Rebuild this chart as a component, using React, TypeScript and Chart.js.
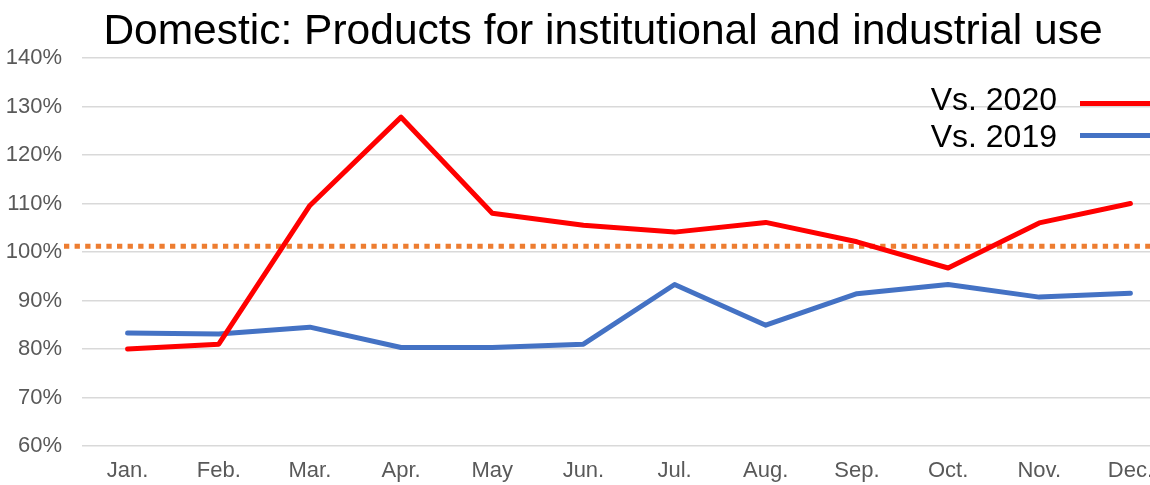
import React, { useEffect, useRef } from "react";
import { Chart, registerables } from "chart.js";

Chart.register(...registerables);

const FONT = "'Liberation Sans', Arial, sans-serif";

const months = ["Jan.", "Feb.", "Mar.", "Apr.", "May", "Jun.", "Jul.", "Aug.", "Sep.", "Oct.", "Nov.", "Dec."];
const vs2020 = [80.0, 81.0, 109.6, 127.8, 108.0, 105.5, 104.1, 106.1, 102.1, 96.7, 106.0, 110.0];
const vs2019 = [83.3, 83.1, 84.5, 80.3, 80.3, 81.0, 93.3, 84.9, 91.4, 93.3, 90.7, 91.5];
const referenceValue = 101.2;
const yMin = 60;
const yMax = 140;
const yStep = 10;
const titleText = "Domestic: Products for institutional and industrial use";

const refLinePlugin = {
  id: "refLine",
  beforeDatasetsDraw(chart: any, _args: any, opts: any) {
    const y = chart.scales.y.getPixelForValue(opts.value);
    const ctx = chart.ctx;
    ctx.save();
    ctx.strokeStyle = opts.color;
    ctx.lineWidth = opts.width;
    ctx.setLineDash(opts.dash);
    ctx.lineCap = "butt";
    ctx.beginPath();
    ctx.moveTo(opts.startX, y);
    ctx.lineTo(chart.width, y);
    ctx.stroke();
    ctx.restore();
  },
};

const sideLegendPlugin = {
  id: "sideLegend",
  afterDraw(chart: any, _args: any, opts: any) {
    const ctx = chart.ctx;
    const area = chart.chartArea;
    ctx.save();
    ctx.font = `${opts.fontSize}px ${FONT}`;
    ctx.textAlign = "right";
    ctx.textBaseline = "middle";
    chart.data.datasets.forEach((ds: any, i: number) => {
      const y = opts.top + i * opts.rowGap;
      ctx.fillStyle = "#000000";
      ctx.fillText(ds.label, opts.textRight, y);
      ctx.strokeStyle = ds.borderColor;
      ctx.lineWidth = ds.borderWidth;
      ctx.lineCap = "butt";
      ctx.beginPath();
      ctx.moveTo(opts.lineStart, y + opts.lineOffsets[i]);
      ctx.lineTo(area.right, y + opts.lineOffsets[i]);
      ctx.stroke();
    });
    ctx.restore();
  },
};

export default function App() {
  const ref = useRef<HTMLCanvasElement>(null);

  useEffect(() => {
    if (!ref.current) return;
    const chart = new Chart(ref.current, {
      type: "line",
      data: {
        labels: months,
        datasets: [
          {
            label: "Vs. 2020",
            data: vs2020,
            borderColor: "#FF0000",
            backgroundColor: "#FF0000",
            borderWidth: 5,
            pointRadius: 0,
            tension: 0,
            borderCapStyle: "round",
            borderJoinStyle: "round",
          },
          {
            label: "Vs. 2019",
            data: vs2019,
            borderColor: "#4472C4",
            backgroundColor: "#4472C4",
            borderWidth: 5,
            pointRadius: 0,
            tension: 0,
            borderCapStyle: "round",
            borderJoinStyle: "round",
          },
        ],
      },
      options: {
        animation: false,
        responsive: false,
        layout: { padding: { left: 6, right: 0, top: 0, bottom: 0 } },
        scales: {
          x: {
            offset: true,
            grid: { display: false, drawTicks: false },
            border: { display: false },
            ticks: { color: "#595959", font: { family: FONT, size: 22 }, padding: 12, maxRotation: 0 },
            afterFit: (s: any) => {
              s.height = 39;
            },
          },
          y: {
            min: yMin,
            max: yMax,
            grid: { color: "#d9d9d9", lineWidth: 1.5, drawTicks: false },
            border: { display: false },
            ticks: {
              stepSize: yStep,
              color: "#595959",
              font: { family: FONT, size: 22 },
              padding: 20,
              callback: (v: any) => `${v}%`,
            },
            afterFit: (s: any) => {
              s.width = 76;
            },
          },
          yRight: {
            position: "right",
            min: yMin,
            max: yMax,
            grid: { display: false, drawTicks: false },
            border: { display: false },
            ticks: { display: false },
            afterFit: (s: any) => {
              s.width = 24;
            },
          },
        },
        plugins: {
          legend: { display: false },
          tooltip: { enabled: false },
          title: {
            display: true,
            text: titleText,
            color: "#000000",
            font: { family: FONT, size: 42.5, weight: "normal" },
            padding: { top: 7, bottom: 0 },
          },
          refLine: { value: referenceValue, color: "#ED7D31", width: 5, dash: [5.3, 5.3], startX: 64 },
          sideLegend: { fontSize: 32, top: 101.5, rowGap: 37, textRight: 1057, lineStart: 1080, lineOffsets: [2, -3] },
        } as any,
      },
      plugins: [refLinePlugin, sideLegendPlugin],
    });
    return () => chart.destroy();
  }, []);

  return (
    <div style={{ position: "fixed", left: 0, top: 0, width: 1150, height: 485, overflow: "hidden", background: "#ffffff" }}>
      <canvas ref={ref} width={1200} height={485} style={{ display: "block" }} />
    </div>
  );
}
